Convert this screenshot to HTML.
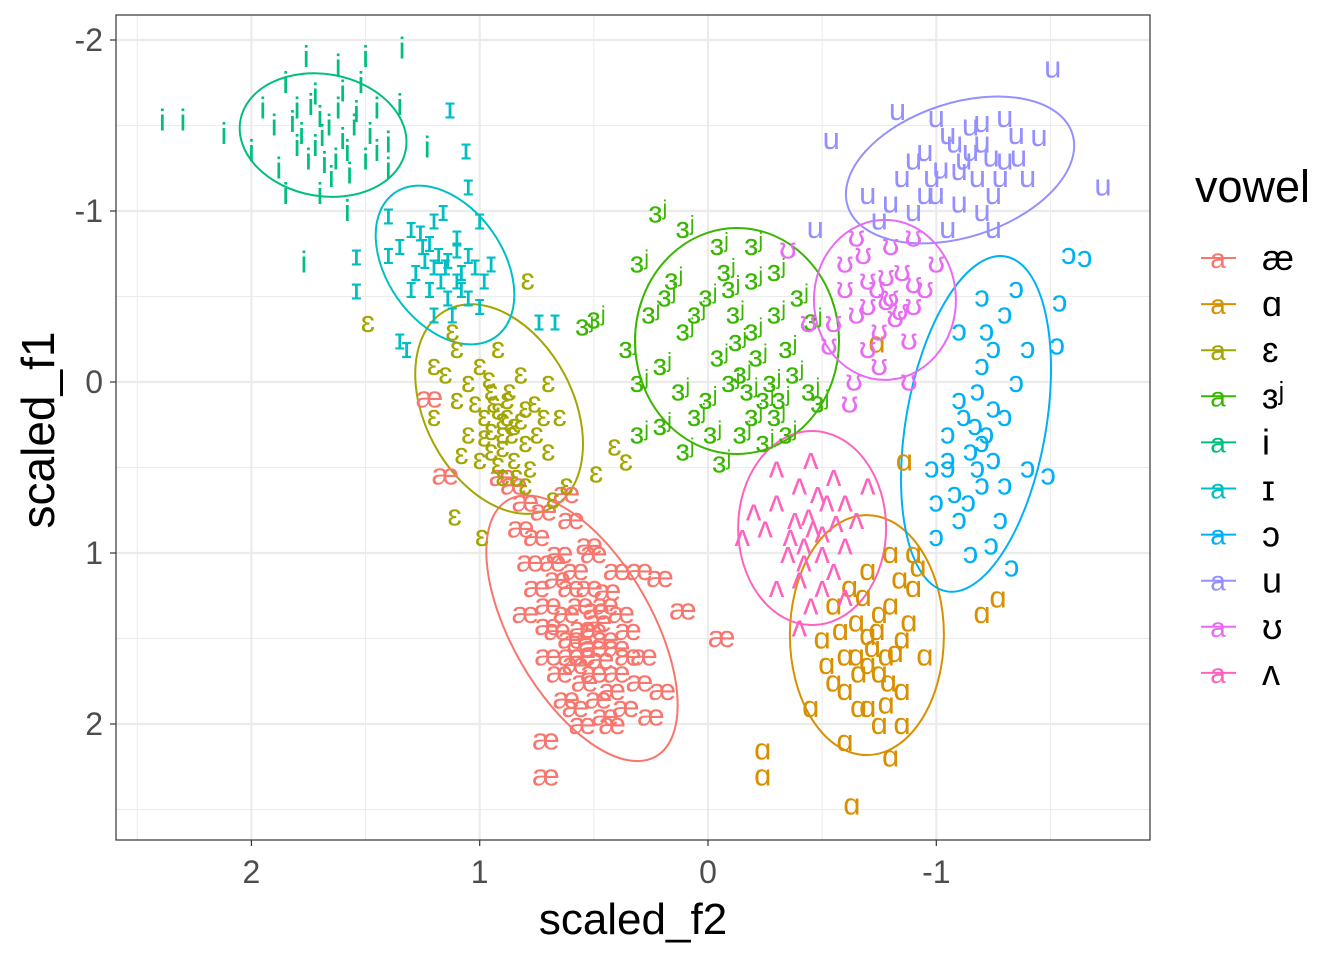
<!DOCTYPE html>
<html><head><meta charset="utf-8"><style>
body{margin:0;background:#fff}
svg text{font-family:"Liberation Sans","DejaVu Sans",sans-serif}
</style></head><body>
<svg id="chart" width="1344" height="960" xmlns="http://www.w3.org/2000/svg">
<rect x="0" y="0" width="1344" height="960" fill="#fff"/>
<g id="grid"></g>
<g id="ellipses"></g>
<g id="points"></g>
<rect x="116" y="15" width="1034" height="825" fill="none" stroke="#333" stroke-width="1.2"/>
<g id="axes"></g>
<text x="633" y="934" font-size="44" text-anchor="middle" fill="#000">scaled_f2</text>
<text x="0" y="0" font-size="46" text-anchor="middle" fill="#000" transform="translate(54,430) rotate(-90)">scaled_f1</text>
<g id="legend">
<text x="1195" y="202" font-size="45" fill="#000">vowel</text>
</g>
</svg>
<script>
const vowels = ["æ","ɑ","ɛ","ɜʲ","i","ɪ","ɔ","u","ʊ","ʌ"];
const colors = ["#F8766D","#D89000","#A3A500","#39B600","#00BF7D","#00BFC4","#00B0F6","#9590FF","#E76BF3","#FF62BC"];
const xTicks = [2,1,0,-1];
const xTickLabels = ["2","1","0","-1"];
const xMinor = [2.5,1.5,0.5,-0.5,-1.5];
const yTicks = [-2,-1,0,1,2];
const yTickLabels = ["-2","-1","0","1","2"];
const yMinor = [-1.5,-0.5,0.5,1.5,2.5];
// ellipses: [f2 centre, f1 centre, pixel rx, pixel ry, angle deg]
const ellipseParams = [
 [0.552,1.44,70,148,-30],
 [-0.696,1.48,77,120,0],
 [0.915,0.158,74,112,-28],
 [-0.127,-0.24,102,113,0],
 [1.686,-1.444,84,61,10],
 [1.152,-0.684,58,88,-35],
 [-1.174,0.245,70,170,10],
 [-1.104,-1.24,118,67,-18],
 [-0.775,-0.48,71,80,0],
 [-0.456,0.854,74,97,0]
];
const ptsAe = [[0.55,1.44],[0.6,1.2],[0.65,1.0],[0.5,1.0],[0.45,1.3],[0.55,1.6],[0.5,1.7],[0.4,1.55],[0.42,1.8],[0.6,1.5],[0.7,1.3],[0.75,0.9],[0.8,0.7],[0.6,0.8],[0.35,1.6],[0.48,1.4],[0.65,1.7],[0.58,1.9],[0.45,1.95],[0.3,1.75],[0.7,1.6],[0.85,0.6],[0.9,0.55],[0.52,1.2],[0.38,1.35],[0.62,1.35],[0.75,1.2],[0.4,1.1],[0.3,1.1],[0.55,2.0],[0.2,1.8],[-0.06,1.49],[0.11,1.33],[0.71,2.30],[0.71,2.09],[1.22,0.09],[1.15,0.54],[0.21,1.14],[0.68,1.05],[0.5,1.55],[0.58,1.65],[0.45,1.5],[0.62,0.65],[0.78,1.05],
 [0.56,1.3],[0.5,1.45],[0.6,1.6],[0.47,1.62],[0.54,1.75],[0.4,1.7],[0.66,1.45],[0.52,0.95],[0.72,0.75],[0.58,1.1],[0.48,1.85],[0.36,1.9],[0.62,1.85],[0.44,1.22],[0.7,1.42],[0.35,1.45],[0.28,1.6],[0.82,0.85],[0.66,1.15],[0.56,1.52],[0.49,1.33],[0.25,1.95],[0.42,2.0],[0.8,1.35]];
const ptsA = [[-0.7,1.48],[-0.8,1.3],[-0.6,1.6],[-0.75,1.7],[-0.65,1.4],[-0.85,1.5],[-0.55,1.3],[-0.9,1.2],[-0.7,1.1],[-0.8,1.0],[-0.6,1.8],[-0.7,1.9],[-0.5,1.5],[-0.95,1.6],[-0.85,1.8],[-0.65,1.6],[-0.75,1.35],[-0.55,1.75],[-0.9,1.0],[-0.75,2.0],[-0.6,2.1],[-0.45,1.9],[-0.85,2.0],[-0.72,1.55],[-0.24,2.15],[-0.24,2.30],[-0.63,2.47],[-0.80,2.19],[-1.2,1.35],[-1.27,1.26],[-0.86,0.46],[-0.74,-0.23],[-0.78,1.6],[-0.68,1.25],
 [-0.74,1.45],[-0.82,1.58],[-0.66,1.7],[-0.79,1.75],[-0.58,1.45],[-0.88,1.4],[-0.7,1.65],[-0.62,1.2],[-0.84,1.15],[-0.92,1.08],[-0.52,1.65],[-0.66,1.9],[-0.78,1.88]];
const ptsE = [[0.92,0.16],[1.05,0.0],[1.0,-0.1],[0.95,0.05],[0.85,0.25],[0.8,0.35],[0.9,0.3],[1.1,0.1],[0.98,0.2],[0.88,0.1],[0.8,0.15],[0.75,0.3],[0.85,0.45],[0.95,0.4],[1.05,0.3],[1.15,-0.05],[0.7,0.0],[0.78,0.5],[0.92,-0.2],[1.0,0.45],[0.7,0.4],[0.65,0.2],[1.1,-0.2],[0.9,0.55],[0.82,-0.05],[1.2,0.2],[1.49,-0.35],[1.11,0.78],[0.99,0.9],[0.36,0.46],[0.49,0.53],[0.41,0.37],[0.79,-0.6],[0.88,0.2],[0.95,0.28],
 [0.9,0.22],[0.86,0.3],[0.94,0.12],[0.82,0.22],[0.9,0.38],[0.96,-0.02],[1.02,0.12],[0.76,0.12],[0.84,0.55],[0.72,0.2],[0.98,0.32],[1.12,-0.3],[1.2,-0.1],[0.92,0.48],[0.8,0.6],[0.62,0.6],[0.68,0.68],[0.87,0.05],[1.08,0.42]];
const ptsEr = [[-0.13,-0.24],[0.0,-0.5],[-0.2,-0.6],[-0.3,-0.4],[0.1,-0.3],[0.2,-0.1],[-0.1,0.0],[-0.25,0.1],[-0.35,-0.2],[0.15,-0.6],[-0.05,-0.8],[-0.2,-0.8],[0.25,-0.4],[0.3,0.0],[0.05,0.2],[-0.15,0.3],[-0.3,0.2],[-0.4,-0.5],[0.3,-0.7],[0.1,0.4],[-0.25,0.35],[-0.05,-0.15],[0.2,0.25],[-0.45,0.05],[0.35,-0.2],[0.1,-0.9],[-0.1,-0.55],[0.0,0.1],[-0.2,-0.3],[0.3,0.3],[0.22,-0.99],[0.49,-0.37],[0.54,-0.33],[-0.06,0.47],[-0.49,0.12],[-0.46,-0.36],
 [-0.22,-0.15],[-0.28,0.0],[-0.18,0.05],[-0.32,0.1],[-0.12,-0.4],[-0.08,-0.65],[-0.3,-0.65],[0.05,-0.4],[-0.38,-0.05],[0.12,0.05],[-0.2,0.2],[0.18,-0.5],[-0.02,0.3],[-0.35,0.3],[-0.15,-0.05]];
const ptsI = [[1.69,-1.44],[1.8,-1.6],[1.6,-1.7],[1.55,-1.5],[1.75,-1.3],[1.9,-1.5],[1.65,-1.2],[1.5,-1.3],[1.85,-1.75],[1.95,-1.6],[1.4,-1.4],[1.45,-1.6],[1.7,-1.55],[1.58,-1.35],[1.78,-1.45],[1.62,-1.6],[1.52,-1.75],[2.0,-1.35],[1.88,-1.25],[1.7,-1.1],[1.4,-1.25],[1.62,-1.85],[1.76,-1.9],[1.5,-1.9],[2.39,-1.53],[2.3,-1.53],[1.34,-1.95],[1.77,-0.7],[1.23,-1.37],[2.12,-1.45],[1.58,-1.0],[1.85,-1.1],[1.35,-1.62],[1.72,-1.68],
 [1.66,-1.5],[1.72,-1.38],[1.6,-1.42],[1.54,-1.58],[1.68,-1.28],[1.82,-1.52],[1.48,-1.45],[1.63,-1.3],[1.74,-1.62],[1.57,-1.22],[1.45,-1.35],[1.8,-1.38]];
const ptsIh = [[1.15,-0.68],[1.3,-0.9],[1.25,-0.8],[1.2,-0.95],[1.1,-0.6],[1.05,-0.5],[1.0,-0.45],[1.18,-0.75],[1.28,-0.65],[1.1,-0.85],[1.05,-0.75],[0.98,-0.6],[1.22,-0.55],[1.35,-0.8],[1.12,-0.4],[1.16,-1.0],[0.95,-0.7],[1.08,-0.65],[1.3,-0.55],[1.2,-0.4],[1.4,-0.98],[1.0,-0.95],[1.05,-1.15],[1.4,-0.75],[1.13,-1.6],[1.06,-1.36],[1.54,-0.74],[1.54,-0.54],[0.74,-0.36],[0.67,-0.36],[1.35,-0.25],[1.32,-0.2],
 [1.14,-0.72],[1.2,-0.68],[1.1,-0.78],[1.17,-0.6],[1.24,-0.72],[1.08,-0.55],[1.26,-0.88],[1.02,-0.68],[1.14,-0.5],[1.22,-0.82]];
const ptsO = [[-1.17,0.25],[-1.25,-0.2],[-1.3,-0.4],[-1.2,-0.1],[-1.1,0.1],[-1.15,0.4],[-1.05,0.5],[-1.0,0.7],[-1.1,0.8],[-1.2,0.6],[-1.3,0.2],[-1.35,0.0],[-1.05,0.3],[-0.98,0.5],[-1.25,0.45],[-1.4,-0.2],[-1.2,-0.5],[-1.35,-0.55],[-1.1,-0.3],[-1.28,0.8],[-1.0,0.9],[-1.15,1.0],[-1.4,0.5],[-1.18,0.05],[-1.65,-0.73],[-1.58,-0.75],[-1.54,-0.47],[-1.53,-0.22],[-1.49,0.54],[-1.24,0.95],[-1.33,1.08],
 [-1.22,0.3],[-1.12,0.2],[-1.18,0.5],[-1.08,0.65],[-1.25,0.15],[-1.3,0.6],[-1.14,0.7],[-1.22,-0.3],[-1.05,0.45],[-1.2,0.35]];
const ptsU = [[-1.1,-1.24],[-1.2,-1.4],[-1.3,-1.3],[-1.0,-1.1],[-0.9,-1.0],[-0.95,-1.35],[-1.15,-1.5],[-1.25,-1.1],[-1.05,-1.45],[-0.85,-1.2],[-1.35,-1.45],[-1.4,-1.2],[-0.8,-1.05],[-1.0,-1.55],[-1.2,-1.0],[-0.75,-0.95],[-1.1,-1.05],[-0.9,-1.3],[-1.3,-1.55],[-1.05,-0.9],[-1.25,-0.9],[-0.7,-1.1],[-1.15,-1.35],[-1.51,-1.84],[-1.73,-1.15],[-0.54,-1.42],[-0.83,-1.59],[-1.45,-1.44],[-0.47,-0.9],
 [-1.12,-1.3],[-1.18,-1.2],[-1.02,-1.25],[-1.24,-1.32],[-1.08,-1.4],[-0.98,-1.2],[-1.28,-1.2],[-1.2,-1.52],[-0.95,-1.1],[-1.36,-1.32]];
const ptsUh = [[-0.78,-0.48],[-0.7,-0.6],[-0.85,-0.65],[-0.9,-0.45],[-0.65,-0.4],[-0.75,-0.3],[-0.6,-0.55],[-0.95,-0.55],[-0.8,-0.8],[-0.7,-0.2],[-0.88,-0.25],[-0.55,-0.35],[-0.68,-0.75],[-1.0,-0.7],[-0.82,-0.38],[-0.6,-0.7],[-0.9,-0.85],[-0.75,-0.1],[-0.65,-0.85],[-0.35,-0.78],[-0.62,0.12],[-0.64,-0.01],[-0.88,-0.01],[-0.53,-0.22],[-0.44,-0.35],
 [-0.8,-0.5],[-0.74,-0.55],[-0.84,-0.42],[-0.7,-0.45],[-0.78,-0.62],[-0.9,-0.58]];
const ptsV = [[-0.46,0.85],[-0.3,0.7],[-0.6,0.7],[-0.4,0.6],[-0.5,1.0],[-0.35,1.0],[-0.6,0.95],[-0.25,0.85],[-0.55,0.55],[-0.45,0.45],[-0.3,0.5],[-0.65,0.8],[-0.4,1.15],[-0.5,1.2],[-0.2,0.75],[-0.55,1.1],[-0.38,0.8],[-0.52,0.7],[-0.3,1.2],[-0.6,1.25],[-0.45,1.3],[-0.15,0.9],[-0.7,0.6],[-0.42,0.95],[-0.40,1.43],
 [-0.44,0.78],[-0.5,0.88],[-0.36,0.9],[-0.56,0.82],[-0.42,1.05],[-0.48,0.65]];
const pointSets = [ptsAe,ptsA,ptsE,ptsEr,ptsI,ptsIh,ptsO,ptsU,ptsUh,ptsV];

const NS="http://www.w3.org/2000/svg";
const xS = v => 708 - 228.3*v;
const yS = v => 382 + 171*v;
function mk(tag, attrs, parent){const e=document.createElementNS(NS,tag);for(const k in attrs)e.setAttribute(k,attrs[k]);parent.appendChild(e);return e;}
const grid=document.getElementById('grid'), axes=document.getElementById('axes');
xMinor.forEach(v=>{const l=mk('line',{x1:xS(v),x2:xS(v),y1:15,y2:840,stroke:'#EBEBEB','stroke-width':1},grid);

});
yMinor.forEach(v=>{const l=mk('line',{x1:116,x2:1150,y1:yS(v),y2:yS(v),stroke:'#EBEBEB','stroke-width':1},grid);

});
xTicks.forEach((v,i)=>{const l=mk('line',{x1:xS(v),x2:xS(v),y1:15,y2:840,stroke:'#EBEBEB','stroke-width':2.2},grid);


const t=mk('line',{x1:xS(v),x2:xS(v),y1:840,y2:846,stroke:'#333','stroke-width':1.2},axes);


const tx=mk('text',{x:xS(v),y:883,'font-size':32,'text-anchor':'middle',fill:'#4D4D4D'},axes);tx.textContent=xTickLabels[i];

});
yTicks.forEach((v,i)=>{const l=mk('line',{x1:116,x2:1150,y1:yS(v),y2:yS(v),stroke:'#EBEBEB','stroke-width':2.2},grid);


const t=mk('line',{x1:110,x2:116,y1:yS(v),y2:yS(v),stroke:'#333','stroke-width':1.2},axes);


const tx=mk('text',{x:103,y:yS(v)+11,'font-size':32,'text-anchor':'end',fill:'#4D4D4D'},axes);tx.textContent=yTickLabels[i];

});
const eg=document.getElementById('ellipses'), pg=document.getElementById('points');
pointSets.forEach((set,k)=>{set.forEach(p=>{const t=mk('text',{x:xS(p[0]),y:yS(p[1])+10,'font-size':31,'text-anchor':'middle',fill:colors[k]},pg);t.textContent=vowels[k];

});});
ellipseParams.forEach((e,k)=>{const cx=xS(e[0]),cy=yS(e[1]);const el=mk('ellipse',{cx:cx,cy:cy,rx:e[2],ry:e[3],fill:'none',stroke:colors[k],'stroke-width':2,transform:`rotate(${e[4]} ${cx} ${cy})`},eg);

});
const lg=document.getElementById('legend');
vowels.forEach((v,k)=>{const y=258+46.1*k;
const l=mk('line',{x1:1201,x2:1236,y1:y,y2:y,stroke:colors[k],'stroke-width':2},lg);


const a=mk('text',{x:1218,y:y+10,'font-size':28,'text-anchor':'middle',fill:colors[k]},lg);a.textContent='a';


const t=mk('text',{x:1262,y:y+12,'font-size':36,fill:'#000'},lg);t.textContent=v;

});
</script>
</body></html>
